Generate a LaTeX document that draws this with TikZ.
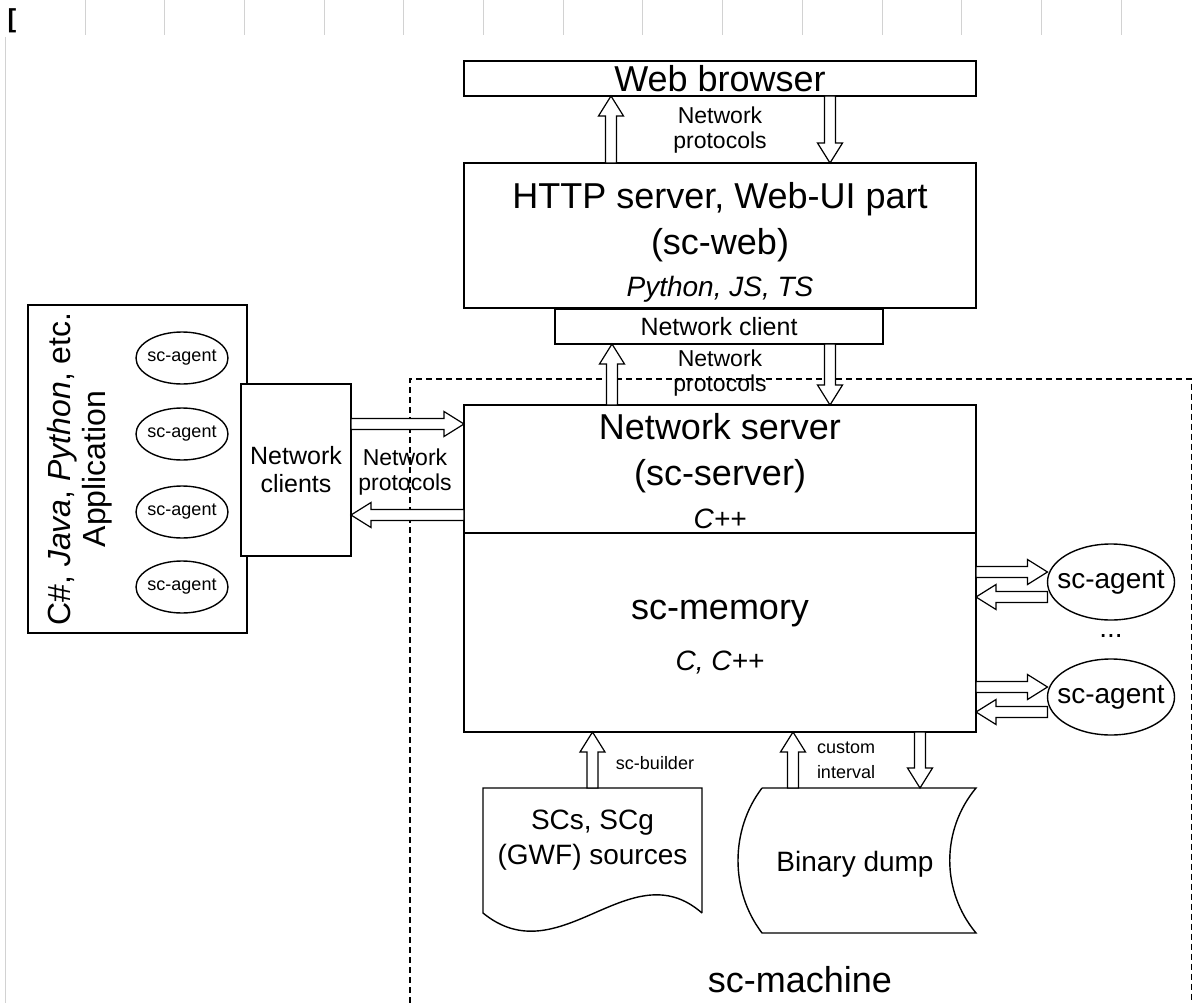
\documentclass[tikz,border=0pt]{standalone}
\usepackage{fontspec}
\setmainfont{Liberation Sans}
\usetikzlibrary{calc, positioning, shapes.geometric}

% hollow block arrow from #1 to #2
\newcommand{\fatarrow}[2]{%
  \coordinate (fa-s) at (#1);
  \coordinate (fa-e) at (#2);
  \coordinate (fa-b) at ($(fa-e)!20pt!(fa-s)$);
  \draw[fat] ($(fa-s)!5.5pt!90:(fa-e)$) -- ($(fa-b)!5.5pt!-90:(fa-s)$)
    -- ($(fa-b)!12.5pt!-90:(fa-s)$) -- (fa-e) -- ($(fa-b)!12.5pt!90:(fa-s)$)
    -- ($(fa-b)!5.5pt!90:(fa-s)$) -- ($(fa-s)!5.5pt!-90:(fa-e)$) -- cycle;
}

\begin{document}
\begin{tikzpicture}[x=1pt, y=-1pt, line width=1.4pt,
    box/.style={draw, fill=white, rectangle, inner sep=0pt, outer sep=0pt, align=center, font=\fontsize{36}{46}\selectfont},
    boxtext/.style={align=center, font=\fontsize{36}{46}\selectfont},
    smallagent/.style={draw, ellipse, inner xsep=-3pt, inner ysep=0pt, outer sep=0pt, minimum width=92pt, minimum height=52pt, font=\fontsize{18}{22}\selectfont},
    bigagent/.style={draw, ellipse, inner xsep=-9pt, inner ysep=0pt, outer sep=0pt, minimum width=127pt, minimum height=76pt, font=\fontsize{28}{34}\selectfont},
    proto/.style={align=center, font=\fontsize{23}{25}\selectfont},
    note/.style={align=left, font=\fontsize{18}{25}\selectfont},
    fat/.style={draw, fill=white, line width=1.2pt},
    frame/.style={dash pattern=on 6pt off 4pt, line width=1.1pt},
    ruler/.style={gray!35, line width=1pt}]
    \useasboundingbox (0,0) rectangle (1193,1003);

    % Page ruler
    \foreach \x in {0,...,13}
        \draw[ruler] ({85+79.7*\x},0) -- ({85+79.7*\x},35);
    \draw[ruler] (5.5,37) -- (5.5,1003);
    \node[font=\fontsize{26}{26}\selectfont\bfseries] (bracket) at (12,21) {[};

    % sc-machine frame
    \draw[frame] (410,1003) |- (1191.5,379) -- (1191.5,1003);
    \node[font=\fontsize{36}{46}\selectfont] (machine) at (800,980) {sc-machine};

    % Web part
    \node[box, minimum width=512pt, minimum height=35pt] (browser) at (720,78.5) {Web browser};
    \node[box, minimum width=512pt, minimum height=145pt] (http) at (720,235.5) {};
    \node[boxtext] (httptext) at (720,242)
        {HTTP server, Web-UI part\\(sc-web)\\[-4pt]{\fontsize{28}{34}\selectfont\itshape Python, JS, TS}};
    \node[box, minimum width=328pt, minimum height=35pt, font=\fontsize{25}{30}\selectfont] (netclient) at (719,326.5) {Network client};

    % Core
    \node[box, minimum width=512pt, minimum height=128pt] (server) at (720,469) {};
    \node[boxtext] (servertext) at (720,471)
        {Network server\\(sc-server)\\[-3pt]{\fontsize{28}{34}\selectfont\itshape C++}};
    \node[box, minimum width=512pt, minimum height=199pt] (memory) at (720,632.5) {};
    \node[boxtext] (memorytext) at (720,637)
        {sc-memory\\[5pt]{\fontsize{28}{34}\selectfont\itshape C, C++}};

    % Application
    \node[box, minimum width=219pt, minimum height=328pt] (app) at (137.5,469) {};
    \node[rotate=90, align=center, font=\fontsize{32}{35}\selectfont] (apptitle) at (80,469)
        {C\#, \textit{Java}, \textit{Python}, etc.\\Application};
    \foreach \y [count=\i] in {358,434,512,587}
        \node[smallagent] (a\i) at (182,\y) {sc-agent};
    \node[box, minimum width=110pt, minimum height=172pt, font=\fontsize{25}{28}\selectfont] (clients) at (296,470) {Network\\clients};

    % External agents
    \node[bigagent] (agent1) at (1111,582) {sc-agent};
    \node[font=\fontsize{28}{34}\selectfont] (dots) at (1111,636) {...};
    \node[bigagent] (agent2) at (1111,697) {sc-agent};

    % Sources and dump
    \node[inner sep=0pt, outer sep=0pt, minimum width=219pt, minimum height=104pt, align=center, font=\fontsize{28}{35}\selectfont] (sources) at (592.5,840) {SCs, SCg\\(GWF) sources};
    \draw ($(sources.south east)+(0,21)$) -- (sources.north east) -- (sources.north west) -- ($(sources.south west)+(0,21)$)
        .. controls ($(sources.south west)+(77,84)$) and ($(sources.south west)+(147,-42)$) .. ($(sources.south east)+(0,21)$);
    \node[inner sep=0pt, outer sep=0pt, minimum width=238pt, minimum height=145pt] (dump) at (857,860.5) {};
    \node[font=\fontsize{28}{34}\selectfont] (dumptext) at (855,864) {Binary dump};
    \draw ($(dump.north west)+(24,0)$) -- (dump.north east)
        .. controls ($(dump.north east)+(-35,42)$) and ($(dump.south east)+(-35,-42)$) .. (dump.south east)
        -- ($(dump.south west)+(24,0)$)
        .. controls ($(dump.south west)+(-8,-42)$) and ($(dump.north west)+(-8,42)$) .. ($(dump.north west)+(24,0)$);

    % Arrows: browser <-> http
    \fatarrow{$(http.north)+(-109,0)$}{$(browser.south)+(-109,0)$}
    \fatarrow{$(browser.south)+(110,0)$}{$(http.north)+(110,0)$}
    \node[proto] (proto1) at (720,130) {Network\\protocols};

    % Arrows: client <-> server
    \fatarrow{$(server.north)+(-108,0)$}{$(netclient.south)+(-107,0)$}
    \fatarrow{$(netclient.south)+(111,0)$}{$(server.north)+(110,0)$}
    \node[proto] (proto2) at (720,373) {Network\\protocols};

    % Arrows: application <-> server
    \fatarrow{$(clients.east)+(0,-46)$}{$(server.west)+(0,-45)$}
    \fatarrow{$(server.west)+(0,46)$}{$(clients.east)+(0,45)$}
    \node[proto] (proto3) at (405,472) {Network\\protocols};

    % Arrows: memory <-> agents
    \foreach \n in {agent1,agent2} {
        \fatarrow{$(memory.east |- \n.west)+(0,-10)$}{$(\n.west)+(0,-10)$}
        \fatarrow{$(\n.west)+(0,15)$}{$(memory.east |- \n.west)+(0,15)$}
    }

    % Arrows: sources, dump
    \fatarrow{sources.north}{memory.south -| sources.north}
    \node[note] (builder) at (655,763) {sc-builder};
    \fatarrow{$(dump.north)+(-64,0)$}{$(memory.south -| dump.north)+(-64,0)$}
    \fatarrow{$(memory.south -| dump.north)+(63,0)$}{$(dump.north)+(63,0)$}
    \node[note] (interval) at (846,760) {custom\\interval};
\end{tikzpicture}
\end{document}
